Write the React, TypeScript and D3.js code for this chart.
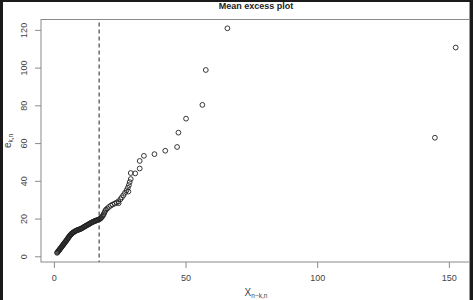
import React from "react";
import * as d3 from "d3";

const denseX = [1.0,1.2,1.4,1.6,1.8,2.0,2.2,2.4,2.6,2.8,3.0,3.2,3.4,3.6,3.8,4.0,4.2,4.4,4.6,4.8,5.0,5.2,5.4,5.6,5.8,6.0,6.2,6.4,6.6,6.8,7.0,7.3,7.6,7.9,8.2,8.5,8.8,9.1,9.4,9.7,10.0,10.3,10.6,10.9,11.2,11.5,11.8,12.1,12.4,12.7,13.0,13.3,13.6,13.9,14.2,14.5,14.8,15.1,15.4,15.7,16.0,16.3,16.6,16.9,17.2,17.5,17.8,18.1,18.4,18.7,19.0,19.3,19.6];
const denseY = [2.1,2.4,2.8,3.2,3.5,3.9,4.3,4.6,5.0,5.4,5.7,6.1,6.5,6.8,7.2,7.6,8.0,8.3,8.7,9.1,9.5,9.9,10.3,10.7,11.1,11.4,11.7,12.0,12.3,12.5,12.8,13.0,13.3,13.6,13.8,14.0,14.2,14.3,14.5,14.6,14.8,15.0,15.3,15.5,15.8,16.0,16.3,16.5,16.8,17.0,17.2,17.5,17.7,18.0,18.2,18.4,18.6,18.8,19.0,19.1,19.3,19.5,19.6,19.8,20.0,20.3,20.7,21.2,21.8,22.5,23.4,24.3,25.0];
const tailX = [20.1,20.7,21.4,22.1,22.9,23.6,24.3,24.4,25.1,25.6,26.2,26.8,27.4,27.9,28.1,28.3,28.6,29.0,29.0,30.7,32.4,32.4,34.0,38.0,42.1,46.6,47.1,50.0,56.2,57.5,65.7,144.5,152.4];
const tailY = [25.6,26.4,27.1,27.7,28.2,28.7,29.4,28.4,30.5,31.5,32.6,33.9,35.2,36.6,34.6,38.0,39.6,41.2,44.4,44.2,46.8,50.8,53.5,54.4,56.2,58.2,65.8,73.2,80.5,99.0,121.1,63.1,110.9];
const xTicks = [0, 50, 100, 150];
const yTicks = [0, 20, 40, 60, 80, 100, 120];
const threshold = 17.0;

export default function App() {
  const W = 473, H = 300;
  const left = 41, right = 473.3, top = 19.5, bottom = 262;
  const x = d3.scaleLinear().domain([-5.08, 159.08]).range([left, right]);
  const y = d3.scaleLinear().domain([-2.76, 125.76]).range([bottom, top]);
  const pts = denseX.map((v, i) => [v, denseY[i]]).concat(tailX.map((v, i) => [v, tailY[i]]));
  const font = "'Liberation Sans', Arial, Helvetica, sans-serif";
  return (
    <svg width={W} height={H} style={{ position: "absolute", left: 0, top: 0 }} fontFamily={font}>
      <rect x={0} y={0} width={W} height={H} fill="#1b1b1b" />
      <rect x={3} y={2} width={467} height={H - 2} fill="#ffffff" />
      <defs>
        <clipPath id="clipBox">
          <rect x={3} y={2} width={466.5} height={H - 2} />
        </clipPath>
      </defs>
      <text x={256} y={9} textAnchor="middle" fontSize={9} fontWeight="bold" fill="#222">Mean excess plot</text>
      <g clipPath="url(#clipBox)">
        <rect x={left} y={top} width={right - left} height={bottom - top} fill="none" stroke="#8a8a8a" strokeWidth={1} />
      </g>
      <line x1={469.5} x2={469.5} y1={2} y2={H} stroke="#9a9a9a" strokeWidth={1} />
      {xTicks.map(t => (
        <g key={"x" + t}>
          <line x1={x(t)} x2={x(t)} y1={bottom} y2={bottom + 6} stroke="#8a8a8a" />
          <text x={x(t)} y={281} textAnchor="middle" fontSize={9} fill="#444">{t}</text>
        </g>
      ))}
      {yTicks.map(t => (
        <g key={"y" + t}>
          <line x1={left} x2={left - 6} y1={y(t)} y2={y(t)} stroke="#8a8a8a" />
          <text transform={`translate(27,${y(t)}) rotate(-90)`} textAnchor="middle" fontSize={9} fill="#444">{t}</text>
        </g>
      ))}
      <line x1={x(threshold)} x2={x(threshold)} y1={top + 3} y2={bottom} stroke="#555" strokeWidth={1.3} strokeDasharray="4,3" />
      {pts.map((p, i) => (
        <circle key={i} cx={x(p[0])} cy={y(p[1])} r={2.4} fill="none" stroke="#222" strokeWidth={0.9} />
      ))}
      <text x={256} y={296} textAnchor="middle" fontSize={10} fill="#444">
        X<tspan fontSize={6.5} dy={2}>n−k,n</tspan>
      </text>
      <text transform="translate(11,141) rotate(-90)" textAnchor="middle" fontSize={10} fill="#444">
        e<tspan fontSize={6.5} dy={2}>k,n</tspan>
      </text>
    </svg>
  );
}
